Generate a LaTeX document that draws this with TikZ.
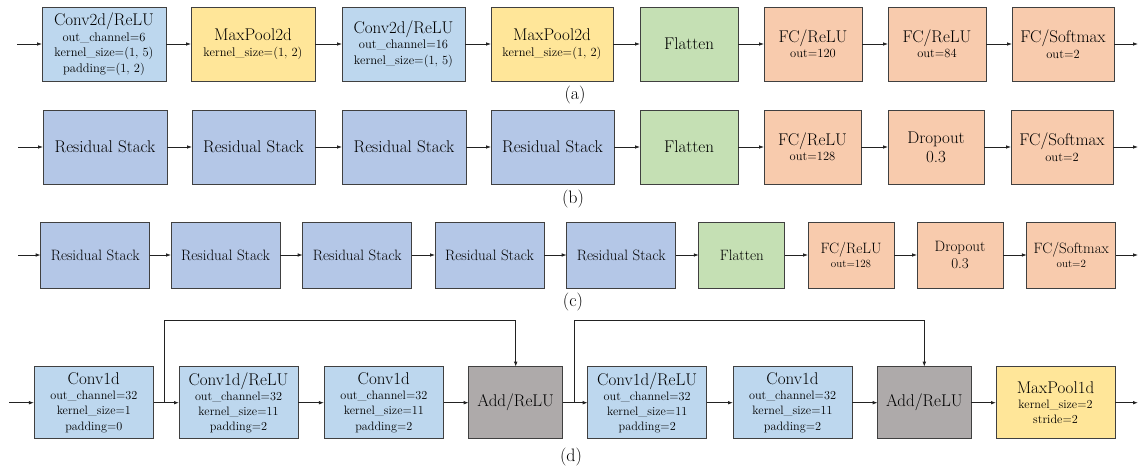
\documentclass[tikz,border=0pt]{standalone}
\usetikzlibrary{arrows.meta}
\definecolor{convblue}{HTML}{BDD7EE}
\definecolor{resblue}{HTML}{B4C7E7}
\definecolor{poolyellow}{HTML}{FFE699}
\definecolor{flatgreen}{HTML}{C5E0B4}
\definecolor{fcorange}{HTML}{F8CBAD}
\definecolor{addgray}{HTML}{AEAAAA}
\definecolor{bordercol}{HTML}{404040}
\definecolor{linecol}{HTML}{222222}
\newcommand{\ttl}[1]{{\fontsize{17}{17}\selectfont #1}}
\newcommand{\ttlc}[1]{{\fontsize{15}{15}\selectfont #1}}
\begin{document}
\begin{tikzpicture}[x=1pt,y=-1pt,
  blk/.style={draw=bordercol, line width=0.9pt, inner sep=0pt, outer sep=0pt, align=center,
    font=\fontsize{12.5}{15.5}\selectfont},
  blkc/.style={blk, font=\fontsize{11}{13.5}\selectfont},
  rowa/.style={minimum height=74},
  rowb/.style={minimum height=74},
  rowc/.style={minimum height=66},
  rowd/.style={minimum height=72},
  arr/.style={-{Latex[length=5pt,width=3.6pt]}, line width=0.8pt, draw=linecol},
  lbl/.style={font=\fontsize{18}{18}\selectfont, inner sep=0pt}]
\useasboundingbox (0,0) rectangle (1138,469);

% ---------- row (a)
\node[blk, rowa, fill=convblue, minimum width=124] (a1) at (104,44) {\ttl{Conv2d/ReLU}\\out\_channel=6\\kernel\_size=(1, 5)\\padding=(1, 2)};
\node[blk, rowa, fill=poolyellow, minimum width=124] (a2) at (253,44) {\ttl{MaxPool2d}\\kernel\_size=(1, 2)};
\node[blk, rowa, fill=convblue, minimum width=123] (a3) at (403.5,44) {\ttl{Conv2d/ReLU}\\out\_channel=16\\kernel\_size=(1, 5)};
\node[blk, rowa, fill=poolyellow, minimum width=122] (a4) at (552,44) {\ttl{MaxPool2d}\\kernel\_size=(1, 2)};
\node[blk, rowa, fill=flatgreen, minimum width=98] (a5) at (689,44) {\ttl{Flatten}};
\node[blk, rowa, fill=fcorange, minimum width=98] (a6) at (813,44) {\ttl{FC/ReLU}\\out=120};
\node[blk, rowa, fill=fcorange, minimum width=98] (a7) at (937,44) {\ttl{FC/ReLU}\\out=84};
\node[blk, rowa, fill=fcorange, minimum width=102] (a8) at (1063,44) {\ttl{FC/Softmax}\\out=2};
\coordinate (ain) at (17,44);
\coordinate (aout) at (1138,44);
\draw[arr] (ain) -- (a1);
\draw[arr] (a1) -- (a2);
\draw[arr] (a2) -- (a3);
\draw[arr] (a3) -- (a4);
\draw[arr] (a4) -- (a5);
\draw[arr] (a5) -- (a6);
\draw[arr] (a6) -- (a7);
\draw[arr] (a7) -- (a8);
\draw[arr] (a8) -- (aout);
\node[lbl] (la) at (575,95) {(a)};

% ---------- row (b)
\node[blk, rowb, fill=resblue, minimum width=124] (b1) at (105,147) {\ttl{Residual Stack}};
\node[blk, rowb, fill=resblue, minimum width=123] (b2) at (253.5,147) {\ttl{Residual Stack}};
\node[blk, rowb, fill=resblue, minimum width=124] (b3) at (404,147) {\ttl{Residual Stack}};
\node[blk, rowb, fill=resblue, minimum width=123] (b4) at (552.5,147) {\ttl{Residual Stack}};
\node[blk, rowb, fill=flatgreen, minimum width=98] (b5) at (689,147) {\ttl{Flatten}};
\node[blk, rowb, fill=fcorange, minimum width=97] (b6) at (812.5,147) {\ttl{FC/ReLU}\\out=128};
\node[blk, rowb, fill=fcorange, minimum width=96, font=\fontsize{17}{19}\selectfont] (b7) at (936,147) {Dropout\\0.3};
\node[blk, rowb, fill=fcorange, minimum width=102] (b8) at (1062,147) {\ttl{FC/Softmax}\\out=2};
\coordinate (bin) at (18,147);
\coordinate (bout) at (1138,147);
\draw[arr] (bin) -- (b1);
\draw[arr] (b1) -- (b2);
\draw[arr] (b2) -- (b3);
\draw[arr] (b3) -- (b4);
\draw[arr] (b4) -- (b5);
\draw[arr] (b5) -- (b6);
\draw[arr] (b6) -- (b7);
\draw[arr] (b7) -- (b8);
\draw[arr] (b8) -- (bout);
\node[lbl] (lb) at (573,199) {(b)};

% ---------- row (c)
\node[blkc, rowc, fill=resblue, minimum width=109] (c1) at (95.2,255) {\ttlc{Residual Stack}};
\node[blkc, rowc, fill=resblue, minimum width=109] (c2) at (225.5,255) {\ttlc{Residual Stack}};
\node[blkc, rowc, fill=resblue, minimum width=109] (c3) at (357.2,255) {\ttlc{Residual Stack}};
\node[blkc, rowc, fill=resblue, minimum width=109] (c4) at (489.5,255) {\ttlc{Residual Stack}};
\node[blkc, rowc, fill=resblue, minimum width=109] (c5) at (621.2,255) {\ttlc{Residual Stack}};
\node[blkc, rowc, fill=flatgreen, minimum width=86] (c6) at (741.8,255) {\ttlc{Flatten}};
\node[blkc, rowc, fill=fcorange, minimum width=86] (c7) at (851,255) {\ttlc{FC/ReLU}\\out=128};
\node[blkc, rowc, fill=fcorange, minimum width=86, font=\fontsize{15}{17.3}\selectfont] (c8) at (960,255) {Dropout\\0.3};
\node[blkc, rowc, fill=fcorange, minimum width=89] (c9) at (1071.3,255) {\ttlc{FC/Softmax}\\out=2};
\coordinate (cin) at (18,255);
\coordinate (cout) at (1138,255);
\draw[arr] (cin) -- (c1);
\draw[arr] (c1) -- (c2);
\draw[arr] (c2) -- (c3);
\draw[arr] (c3) -- (c4);
\draw[arr] (c4) -- (c5);
\draw[arr] (c5) -- (c6);
\draw[arr] (c6) -- (c7);
\draw[arr] (c7) -- (c8);
\draw[arr] (c8) -- (c9);
\draw[arr] (c9) -- (cout);
\node[lbl] (lc) at (573,302.5) {(c)};

% ---------- row (d)
\node[blk, rowd, fill=convblue, minimum width=119.7, font=\fontsize{12.2}{15.2}\selectfont] (d1) at (93.8,402.7) {\ttl{Conv1d}\\out\_channel=32\\kernel\_size=1\\padding=0};
\node[blk, rowd, fill=convblue, minimum width=119, font=\fontsize{12.2}{15.2}\selectfont] (d2) at (238.5,402.7) {\ttl{Conv1d/ReLU}\\out\_channel=32\\kernel\_size=11\\padding=2};
\node[blk, rowd, fill=convblue, minimum width=119.7, font=\fontsize{12.2}{15.2}\selectfont] (d3) at (383.8,402.7) {\ttl{Conv1d}\\out\_channel=32\\kernel\_size=11\\padding=2};
\node[blk, rowd, fill=addgray, minimum width=94] (d4) at (515.7,402.7) {\ttl{Add/ReLU}};
\node[blk, rowd, fill=convblue, minimum width=119, font=\fontsize{12.2}{15.2}\selectfont] (d5) at (647.2,402.7) {\ttl{Conv1d/ReLU}\\out\_channel=32\\kernel\_size=11\\padding=2};
\node[blk, rowd, fill=convblue, minimum width=119, font=\fontsize{12.2}{15.2}\selectfont] (d6) at (792.5,402.7) {\ttl{Conv1d}\\out\_channel=32\\kernel\_size=11\\padding=2};
\node[blk, rowd, fill=addgray, minimum width=93.3] (d7) at (924.3,402.7) {\ttl{Add/ReLU}};
\node[blk, rowd, fill=poolyellow, minimum width=119, font=\fontsize{12.2}{15.2}\selectfont] (d8) at (1055.5,402.7) {\ttl{MaxPool1d}\\kernel\_size=2\\stride=2};
\coordinate (din) at (9,402.7);
\coordinate (dout) at (1138,402.7);
\coordinate (s1) at (164.7,402.7);
\coordinate (t1) at (164.7,320);
\coordinate (s2) at (574,402.7);
\coordinate (t2) at (574,320);
\draw[arr] (din) -- (d1);
\draw[arr] (d1) -- (d2);
\draw[arr] (d2) -- (d3);
\draw[arr] (d3) -- (d4);
\draw[arr] (d4) -- (d5);
\draw[arr] (d5) -- (d6);
\draw[arr] (d6) -- (d7);
\draw[arr] (d7) -- (d8);
\draw[arr] (d8) -- (dout);
\draw[arr] (s1) -- (t1) -| (d4.north);
\draw[arr] (s2) -- (t2) -| (d7.north);
\node[lbl] (ld) at (571,457) {(d)};
\end{tikzpicture}
\end{document}
